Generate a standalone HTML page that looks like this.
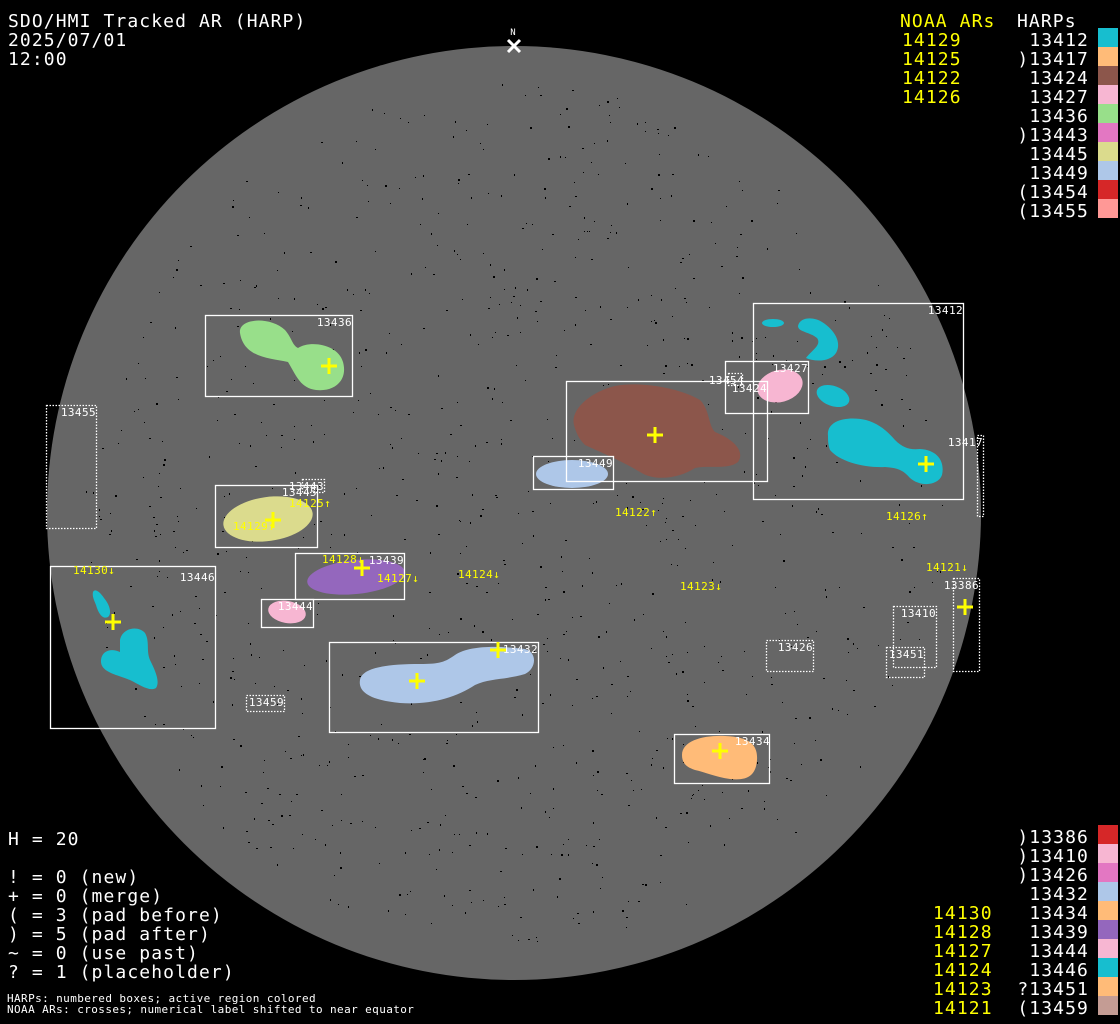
<!DOCTYPE html>
<html><head><meta charset="utf-8">
<style>
html,body{margin:0;padding:0;background:#000;}
body{width:1120px;height:1024px;overflow:hidden;position:relative;}
svg{position:absolute;left:0;top:0;}
text{font-family:"DejaVu Sans Mono","Liberation Mono",monospace;}
.b{letter-spacing:1.1px;}
.s{letter-spacing:0.4px;}
</style></head><body>
<svg width="1120" height="1024" viewBox="0 0 1120 1024" xmlns="http://www.w3.org/2000/svg">
<rect width="1120" height="1024" fill="#000"/>
<circle cx="514" cy="513" r="467" fill="#666666"/>
<g id="dots" fill="#000"></g>

<g>
<path fill="#98df8a" d="M240,333 C238,318 270,316 285,330 C292,338 292,345 298,348 C310,340 338,344 343,362 C348,380 335,392 316,390 C300,388 296,375 288,362 C270,358 244,358 240,333 Z"/>
<ellipse cx="268" cy="519" rx="45" ry="22" fill="#dbdb8d" transform="rotate(-8 268 519)"/>
<ellipse cx="356" cy="577" rx="49" ry="17" fill="#9467bd" transform="rotate(-6 356 577)"/>
<ellipse cx="287" cy="612" rx="19" ry="11" fill="#f7b6d2" transform="rotate(10 287 612)"/>
<path fill="#aec7e8" d="M360,680 C362,668 385,664 420,664 C440,664 445,662 455,655 C470,645 500,646 525,649 C537,652 537,668 525,674 C505,680 490,678 475,685 C455,698 430,705 400,703 C370,700 358,692 360,680 Z"/>
<path fill="#ffbb78" d="M682,755 C682,740 705,735 725,736 C750,737 758,745 757,760 C756,775 748,781 730,779 C715,777 705,772 695,770 C686,767 682,763 682,755 Z"/>
<path fill="#8c564b" d="M574,425 C570,410 590,392 615,386 C640,381 680,388 700,400 C710,410 708,425 715,432 C735,440 745,452 738,462 C728,470 710,465 695,468 C680,478 655,482 640,472 C620,460 600,452 585,445 C578,438 576,432 574,425 Z"/>
<ellipse cx="572" cy="474" rx="36" ry="14" fill="#aec7e8"/>
<ellipse cx="780" cy="386" rx="23" ry="16" fill="#f7b6d2" transform="rotate(-15 780 386)"/>
<ellipse cx="773" cy="323" rx="11" ry="4" fill="#17becf"/>
<path fill="#17becf" d="M798,326 C800,316 815,317 822,322 C835,330 842,343 836,353 C830,362 815,362 806,358 C812,350 822,345 817,338 C810,332 798,332 798,326 Z"/>
<ellipse cx="833" cy="396" rx="17" ry="10" fill="#17becf" transform="rotate(20 833 396)"/>
<path fill="#17becf" d="M828,436 C826,420 848,416 866,420 C880,424 888,432 895,440 C903,448 910,450 920,449 C938,450 945,462 942,475 C938,486 920,487 910,478 C903,470 898,468 885,467 C865,468 840,462 830,450 C828,445 828,440 828,436 Z"/>
<path fill="#17becf" d="M93,592 C95,588 100,592 104,598 C110,605 112,614 108,617 C102,620 98,612 96,605 C94,600 92,596 93,592 Z"/>
<path fill="#17becf" d="M120,640 C122,628 138,625 145,633 C150,642 146,650 150,660 C156,672 160,682 156,688 C150,692 140,685 130,680 C115,674 100,672 101,660 C102,650 112,648 120,652 Z"/>
</g>

<g fill="none" stroke="#fff" stroke-width="1.3">
<rect x="205.5" y="315.5" width="147" height="81"/>
<rect x="215.5" y="485.5" width="102" height="62"/>
<rect x="295.5" y="553.5" width="109" height="46"/>
<rect x="261.5" y="599.5" width="52" height="28"/>
<rect x="50.5" y="566.5" width="165" height="162"/>
<rect x="329.5" y="642.5" width="209" height="90"/>
<rect x="674.5" y="734.5" width="95" height="49"/>
<rect x="566.5" y="381.5" width="201" height="100"/>
<rect x="533.5" y="456.5" width="80" height="33"/>
<rect x="725.5" y="361.5" width="83" height="52"/>
<rect x="753.5" y="303.5" width="210" height="196"/>
</g>
<g fill="none" stroke="#fff" stroke-width="1.3" stroke-dasharray="1.5,1.5">
<rect x="46.5" y="405.5" width="50" height="123"/>
<rect x="302.5" y="479.5" width="22" height="13"/>
<rect x="246.5" y="695.5" width="38" height="16"/>
<rect x="728.5" y="373.5" width="14" height="12"/>
<rect x="977.5" y="435.5" width="6" height="81"/>
<rect x="953.5" y="578.5" width="26" height="93"/>
<rect x="893.5" y="606.5" width="43" height="61"/>
<rect x="886.5" y="647.5" width="38" height="30"/>
<rect x="766.5" y="640.5" width="47" height="31"/>
</g>

<g fill="#fff" font-size="11" text-anchor="end" class="s">
<text x="352" y="326">13436</text>
<text x="96" y="416">13455</text>
<text x="317" y="496">13445</text>
<text x="324" y="490">13443</text>
<text x="215" y="581">13446</text>
<text x="404" y="564">13439</text>
<text x="313" y="610">13444</text>
<text x="284" y="706">13459</text>
<text x="538" y="653">13432</text>
<text x="770" y="745">13434</text>
<text x="613" y="467">13449</text>
<text x="767" y="392">13424</text>
<text x="744" y="384">13454</text>
<text x="808" y="372">13427</text>
<text x="963" y="314">13412</text>
<text x="983" y="446">13417</text>
<text x="979" y="589">13386</text>
<text x="936" y="617">13410</text>
<text x="924" y="658">13451</text>
<text x="813" y="651">13426</text>
</g>

<g fill="#ffff00" font-size="11" class="s">
<text x="289" y="507">14125↑</text>
<text x="233" y="530">14129↑</text>
<text x="322" y="563">14128↓</text>
<text x="377" y="582">14127↓</text>
<text x="458" y="578">14124↓</text>
<text x="680" y="590">14123↓</text>
<text x="615" y="516">14122↑</text>
<text x="886" y="520">14126↑</text>
<text x="926" y="571">14121↓</text>
<text x="73" y="574">14130↓</text>
</g>

<g stroke="#ffff00" stroke-width="3" fill="none">
<path d="M321,366h16M329,358v16"/>
<path d="M265,520h16M273,512v16"/>
<path d="M354,568h16M362,560v16"/>
<path d="M647,435h16M655,427v16"/>
<path d="M918,464h16M926,456v16"/>
<path d="M105,622h16M113,614v16"/>
<path d="M490,650h16M498,642v16"/>
<path d="M409,681h16M417,673v16"/>
<path d="M712,751h16M720,743v16"/>
<path d="M957,607h16M965,599v16"/>
</g>
<path d="M508,40l12,12M520,40l-12,12" stroke="#fff" stroke-width="3"/>
<text x="513" y="35" fill="#fff" font-size="9" text-anchor="middle">N</text>

<g fill="#fff" font-size="18" class="b">
<text x="8" y="27">SDO/HMI Tracked AR (HARP)</text>
<text x="8" y="46">2025/07/01</text>
<text x="8" y="65">12:00</text>
</g>

<text x="900" y="27" fill="#ffff00" font-size="18" class="b">NOAA ARs</text>
<text x="1017" y="27" fill="#fff" font-size="18" class="b">HARPs</text>
<g fill="#ffff00" font-size="18" class="b">
<text x="902" y="46">14129</text><text x="902" y="65">14125</text><text x="902" y="84">14122</text><text x="902" y="103">14126</text>
</g>
<g fill="#fff" font-size="18" text-anchor="end" class="b">
<text x="1089" y="46">13412</text><text x="1089" y="65">)13417</text><text x="1089" y="84">13424</text><text x="1089" y="103">13427</text><text x="1089" y="122">13436</text><text x="1089" y="141">)13443</text><text x="1089" y="160">13445</text><text x="1089" y="179">13449</text><text x="1089" y="198">(13454</text><text x="1089" y="217">(13455</text>
</g>
<g>
<rect x="1098" y="28" width="20" height="19" fill="#17becf"/>
<rect x="1098" y="47" width="20" height="19" fill="#ffbb78"/>
<rect x="1098" y="66" width="20" height="19" fill="#8c564b"/>
<rect x="1098" y="85" width="20" height="19" fill="#f7b6d2"/>
<rect x="1098" y="104" width="20" height="19" fill="#98df8a"/>
<rect x="1098" y="123" width="20" height="19" fill="#e377c2"/>
<rect x="1098" y="142" width="20" height="19" fill="#dbdb8d"/>
<rect x="1098" y="161" width="20" height="19" fill="#aec7e8"/>
<rect x="1098" y="180" width="20" height="19" fill="#d62728"/>
<rect x="1098" y="199" width="20" height="19" fill="#ff9896"/>
</g>

<g fill="#ffff00" font-size="18" class="b">
<text x="933" y="919">14130</text><text x="933" y="938">14128</text><text x="933" y="957">14127</text><text x="933" y="976">14124</text><text x="933" y="995">14123</text><text x="933" y="1014">14121</text>
</g>
<g fill="#fff" font-size="18" text-anchor="end" class="b">
<text x="1089" y="843">)13386</text><text x="1089" y="862">)13410</text><text x="1089" y="881">)13426</text><text x="1089" y="900">13432</text><text x="1089" y="919">13434</text><text x="1089" y="938">13439</text><text x="1089" y="957">13444</text><text x="1089" y="976">13446</text><text x="1089" y="995">?13451</text><text x="1089" y="1014">(13459</text>
</g>
<g>
<rect x="1098" y="825" width="20" height="19" fill="#d62728"/>
<rect x="1098" y="844" width="20" height="19" fill="#f7b6d2"/>
<rect x="1098" y="863" width="20" height="19" fill="#e377c2"/>
<rect x="1098" y="882" width="20" height="19" fill="#aec7e8"/>
<rect x="1098" y="901" width="20" height="19" fill="#ffbb78"/>
<rect x="1098" y="920" width="20" height="19" fill="#9467bd"/>
<rect x="1098" y="939" width="20" height="19" fill="#f7b6d2"/>
<rect x="1098" y="958" width="20" height="19" fill="#17becf"/>
<rect x="1098" y="977" width="20" height="19" fill="#ffbb78"/>
<rect x="1098" y="996" width="20" height="19" fill="#c49c94"/>
</g>

<g fill="#fff" font-size="18" class="b">
<text x="8" y="845">H = 20</text>
<text x="8" y="883">! = 0 (new)</text>
<text x="8" y="902">+ = 0 (merge)</text>
<text x="8" y="921">( = 3 (pad before)</text>
<text x="8" y="940">) = 5 (pad after)</text>
<text x="8" y="959">~ = 0 (use past)</text>
<text x="8" y="978">? = 1 (placeholder)</text>
</g>
<g fill="#fff" font-size="11" class="s">
<text x="7" y="1002">HARPs: numbered boxes; active region colored</text>
<text x="7" y="1013">NOAA ARs: crosses; numerical label shifted to near equator</text>
</g>
</svg>
<script>
(function(){
var g=document.getElementById('dots');var s=12345;
function r(){s=(s*1103515245+12345)&0x7fffffff;return s/0x7fffffff;}
var out='';
for(var i=0;i<1300;i++){
 var x=514+(r()*2-1)*430,y=513+(r()*2-1)*430;
 var dx=x-514,dy=y-513;if(dx*dx+dy*dy>430*430)continue;
 var w=1+(r()<0.3?1:0),h=1+(r()<0.3?1:0);
 out+='<rect x="'+x.toFixed(0)+'" y="'+y.toFixed(0)+'" width="'+w+'" height="'+h+'"/>';
}
g.innerHTML=out;
})();
</script>
</body></html>
